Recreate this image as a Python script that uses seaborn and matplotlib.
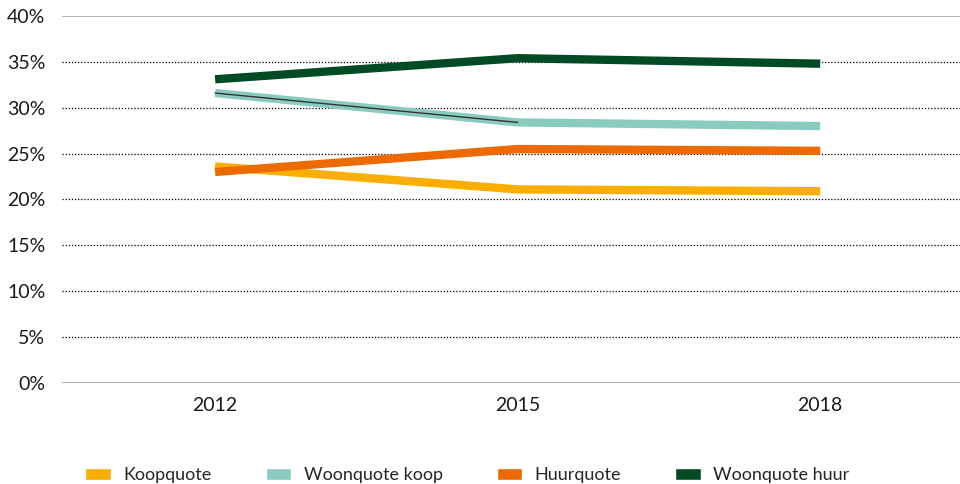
import numpy as np
import pandas as pd
import matplotlib
matplotlib.use("Agg")
import matplotlib.pyplot as plt
from matplotlib.patches import Patch
import seaborn as sns

## Data
jaren = ["2012", "2015", "2018"]
koopquote = [23.6, 21.1, 20.9]
woonquote_koop = [31.6, 28.4, 28.0]
huurquote = [23.0, 25.5, 25.3]
woonquote_huur = [33.1, 35.4, 34.8]

reeksen = ["Koopquote", "Woonquote koop", "Huurquote", "Woonquote huur"]
kleuren = ["#f9ae00", "#89cbbf", "#ec6a00", "#004b23"]
yticks = [0, 5, 10, 15, 20, 25, 30, 35, 40]

df = pd.DataFrame({
    "jaar": jaren * 4,
    "reeks": np.repeat(reeksen, len(jaren)),
    "waarde": koopquote + woonquote_koop + huurquote + woonquote_huur,
})

sns.set_style("white")
plt.rcParams["font.family"] = ["Lato", "DejaVu Sans"]

fig = plt.figure(figsize=(9.6, 4.84), dpi=100)
ax = fig.add_axes([0.0646, 0.2087, 0.9354, 0.7583])

# gridlines
for t in yticks:
    if t in (0, 40):
        ax.axhline(t, color="#a0a0a0", lw=1.2, zorder=0)
    else:
        ax.axhline(t, color="black", lw=0.9, ls=(0, (1, 1.5)), zorder=0)

sns.lineplot(data=df, x="jaar", y="waarde", hue="reeks", hue_order=reeksen,
             palette=kleuren, linewidth=6, sort=False, legend=False, ax=ax)
for ln in ax.get_lines()[-4:]:
    ln.set_solid_capstyle("butt")

# thin dark line over first segment of woonquote koop
ax.plot(jaren[:2], woonquote_koop[:2], color="#333333", lw=1.0)

ax.set_xlim(-0.506, 2.462)
ax.set_ylim(0, 40)
ax.set_yticks(yticks)
ax.set_yticklabels([f"{t}%" for t in yticks])
ax.set_xlabel("")
ax.set_ylabel("")
for s in ax.spines.values():
    s.set_visible(False)
ax.tick_params(axis="both", length=0, labelsize=14, colors="#1a1a1a")
ax.tick_params(axis="y", pad=12)
ax.tick_params(axis="x", pad=10)

handles = [Patch(facecolor=c, label=r) for r, c in zip(reeksen, kleuren)]
fig.legend(handles=handles, loc="lower left", bbox_to_anchor=(0.072, -0.032),
           ncol=4, frameon=False, fontsize=13, handlelength=1.4, handleheight=0.6,
           columnspacing=3.0, handletextpad=0.7)

fig.savefig("out.png", dpi=100)
